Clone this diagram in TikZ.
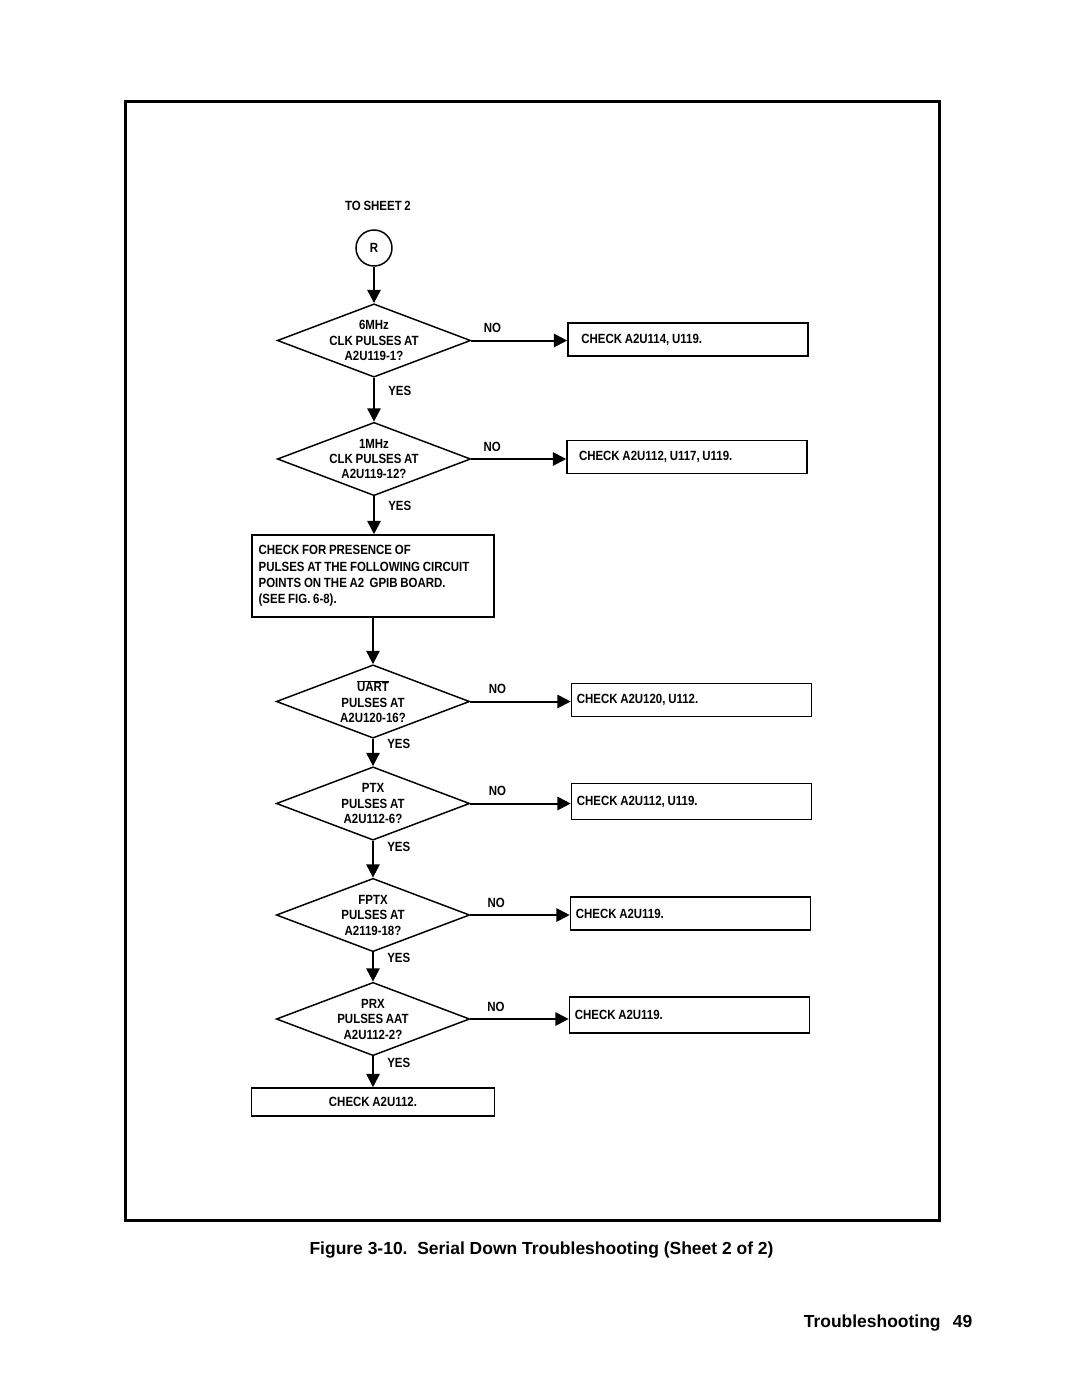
\documentclass[tikz,border=0pt]{standalone}
\usepackage{fontspec}
\setmainfont{Liberation Sans}
\newfontfamily\chartfont[FakeStretch=0.86,WordSpace=0.85]{Liberation Sans}
\usetikzlibrary{shapes.geometric,arrows.meta}

\tikzset{
  flow/.style={line width=1.5pt,-{Triangle[length=10pt,width=10pt]}},
  decision/.style={draw,line width=1.1pt,shape=diamond,aspect=2.6,inner sep=-2.5pt,
    minimum width=145pt,minimum height=55pt,align=center,
    font=\chartfont\bfseries\fontsize{10}{11.6}\selectfont},
  chkbox/.style={draw,line width=1.2pt,minimum height=25pt,inner xsep=#1,
    text width=180pt-2*#1,align=flush left,font=\chartfont\bfseries\fontsize{10}{12.2}\selectfont},
  chkbox/.default=4pt,
  lbl/.style={font=\chartfont\bfseries\fontsize{10}{12}\selectfont,inner sep=1pt},
}

\begin{document}
\begin{tikzpicture}[x=0.75pt,y=0.75pt,yscale=-1,xscale=1]
\useasboundingbox (0,0) rectangle (1080,1397);

%Frame
\draw [line width=2.3pt] (125.5,101.5) rectangle (939.5,1220.5);

% Off-sheet connector
\node (tosheet) at (378,206) [lbl] {TO SHEET 2};
\node (r) at (374,248) [draw,circle,line width=1.1pt,minimum size=27pt,inner sep=0pt,
  font=\chartfont\bfseries\fontsize{10}{12}\selectfont] {R};

% Decisions
\node (d1) at (374,340.5) [decision] {6MHz\\CLK PULSES AT\\A2U119-1?};
\node (d2) at (374,459) [decision] {1MHz\\CLK PULSES AT\\A2U119-12?};
\node (d4) at (373,701.5) [decision] {$\overline{\hbox{UART}}$\\PULSES AT\\A2U120-16?};
\node (d5) at (373,803.5) [decision] {PTX\\PULSES AT\\A2U112-6?};
\node (d6) at (373,915) [decision] {FPTX\\PULSES AT\\A2119-18?};
\node (d7) at (373,1019) [decision] {PRX\\PULSES AAT\\A2U112-2?};

% Check boxes
\node (b1) at (688,339.5) [chkbox=10pt] {CHECK A2U114, U119.};
\node (b2) at (687,457) [chkbox=9pt] {CHECK A2U112, U117, U119.};
\node (b4) at (691.5,700) [chkbox] {CHECK A2U120, U112.};
\node (b5) at (691.5,801.5) [chkbox,minimum height=27pt] {CHECK A2U112, U119.};
\node (b6) at (690.5,913.5) [chkbox] {CHECK A2U119.};
\node (b7) at (689.5,1015) [chkbox,minimum height=27pt] {CHECK A2U119.};
\node (b3) at (373,576) [draw,line width=1.2pt,minimum height=61.5pt,inner xsep=5pt,
  text width=171.5pt,align=flush left,font=\chartfont\bfseries\fontsize{10}{12.2}\selectfont]
  {CHECK FOR PRESENCE OF\\PULSES AT THE FOLLOWING CIRCUIT\\POINTS ON THE A2\ \ GPIB BOARD.\\(SEE FIG. 6-8).};
\node (b8) at (373,1102) [draw,line width=1.2pt,minimum width=182pt,minimum height=21pt,
  font=\chartfont\bfseries\fontsize{10}{12}\selectfont] {CHECK A2U112.};

% Connectors
\draw [flow] (r) -- (d1);
\draw [flow] (d1.south) -- node [lbl,right=9pt,pos=0.3] {YES} (d2.north);
\draw [flow] (d2.south) -- node [lbl,right=9pt,pos=0.25] {YES} (d2.south |- b3.north);
\draw [flow] (b3) -- (d4.north);
\draw [flow] (d4.south) -- node [lbl,right=9pt,pos=0.2] {YES} (d5.north);
\draw [flow] (d5.south) -- node [lbl,right=9pt,pos=0.15] {YES} (d6.north);
\draw [flow] (d6.south) -- node [lbl,right=9pt,pos=0.2] {YES} (d7.north);
\draw [flow] (d7.south) -- node [lbl,right=9pt,pos=0.2] {YES} (d7.south |- b8.north);

\draw [flow] (d1.east) -- node [lbl,above=4pt,pos=0.22] {NO} (d1.east -| b1.west);
\draw [flow] (d2.east) -- node [lbl,above=4pt,pos=0.22] {NO} (d2.east -| b2.west);
\draw [flow] (d4.east) -- node [lbl,above=4pt,pos=0.27] {NO} (d4.east -| b4.west);
\draw [flow] (d5.east) -- node [lbl,above=4pt,pos=0.27] {NO} (d5.east -| b5.west);
\draw [flow] (d6.east) -- node [lbl,above=4pt,pos=0.26] {NO} (d6.east -| b6.west);
\draw [flow] (d7.east) -- node [lbl,above=4pt,pos=0.26] {NO} (d7.east -| b7.west);

% Caption
\node (cap) at (541.5,1250) [font=\bfseries\fontsize{13.1}{15}\selectfont] {Figure 3-10.\ \ Serial Down Troubleshooting (Sheet 2 of 2)};
\node (foot) at (977,1323) [anchor=east,font=\bfseries\fontsize{13.1}{15}\selectfont] {Troubleshooting\hspace{0.7em}49};

\end{tikzpicture}
\end{document}
